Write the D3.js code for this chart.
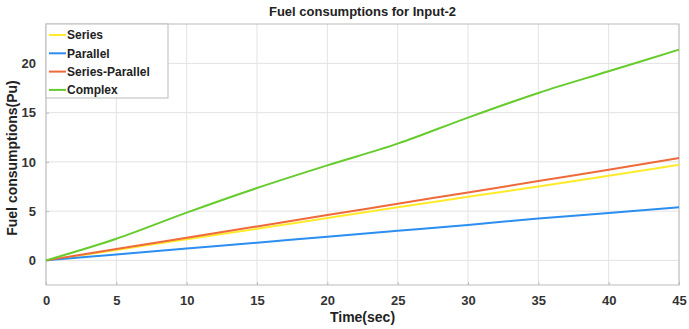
<!DOCTYPE html>
<html>
<head>
<meta charset="utf-8">
<script src="https://cdn.jsdelivr.net/npm/d3@7"></script>
<style>
body { margin: 0; background: #fff; }
svg { font-family: Arial, "Liberation Sans", sans-serif; }
.axis text { font-size: 13px; font-weight: bold; fill: #333; }
.axis path, .axis line { stroke: #bbb; }
.grid line { stroke: #e3e3e3; }
</style>
</head>
<body>
<svg width="689" height="329"></svg>
<script>
const width = 689
const height = 329
const margin = { top: 24, bottom: 44, left: 46, right: 10 }

// time (sec)
const time = [0, 5, 10, 15, 20, 25, 30, 35, 40, 45]
const seriesNames = ["Series", "Parallel", "Series-Parallel", "Complex"]
const seriesColors = ["#ffeb2a", "#2b8ef0", "#ef6a3a", "#66cc2e"]
const seriesVals = [0, 1.05, 2.15, 3.2, 4.3, 5.4, 6.45, 7.5, 8.6, 9.7]
const parallelVals = [0, 0.6, 1.2, 1.8, 2.4, 3.0, 3.6, 4.25, 4.8, 5.4]
const seriesParallelVals = [0, 1.15, 2.3, 3.45, 4.6, 5.75, 6.9, 8.05, 9.2, 10.4]
const complexVals = [0, 2.2, 4.85, 7.35, 9.65, 11.85, 14.5, 17.0, 19.2, 21.4]
const xTicks = [0, 5, 10, 15, 20, 25, 30, 35, 40, 45]
const yTicks = [0, 5, 10, 15, 20]

const allVals = [seriesVals, parallelVals, seriesParallelVals, complexVals]

const x = d3.scaleLinear().range([margin.left, width - margin.right]).domain([0, 45])
const y = d3.scaleLinear().range([height - margin.bottom, margin.top]).domain([-2.5, 24])

const svg = d3.select("svg")

// grid
svg.append("g").attr("class", "grid")
.selectAll("line.v").data(xTicks).enter().append("line")
.attr("x1", d => x(d)).attr("x2", d => x(d))
.attr("y1", y(-2.5)).attr("y2", y(24))
svg.select("g.grid")
.selectAll("line.h").data(yTicks).enter().append("line")
.attr("x1", x(0)).attr("x2", x(45))
.attr("y1", d => y(d)).attr("y2", d => y(d))

// box
svg.append("rect")
.attr("x", x(0)).attr("y", y(24))
.attr("width", x(45) - x(0)).attr("height", y(-2.5) - y(24))
.attr("fill", "none").attr("stroke", "#bbb")

const xAxis = d3.axisBottom(x).tickValues(xTicks).tickSize(3).tickPadding(8)
const yAxis = d3.axisLeft(y).tickValues(yTicks).tickSize(3).tickPadding(7)
svg.append("g").attr("class", "axis x")
.attr("transform", "translate(0," + (height - margin.bottom) + ")")
.call(xAxis)
.call(g => g.select(".domain").remove())
.selectAll(".tick line").attr("y2", -3)
svg.append("g").attr("class", "axis y")
.attr("transform", "translate(" + margin.left + ",0)")
.call(yAxis)
.call(g => g.select(".domain").remove())
.selectAll(".tick line").attr("x2", 3)

const line = d3.line()
.x((d, i) => x(time[i]))
.y(d => y(d))
.curve(d3.curveMonotoneX)

svg.append("g").attr("class", "lines")
.selectAll("path").data(allVals).enter().append("path")
.attr("d", line)
.attr("fill", "none")
.attr("stroke-width", 2)
.attr("stroke", (d, i) => seriesColors[i])

// title & labels
svg.append("text")
.attr("x", (x(0) + x(45)) / 2).attr("y", 16)
.attr("text-anchor", "middle")
.style("font-size", "13px").style("font-weight", "bold").style("fill", "#222")
.text("Fuel consumptions for Input-2")

svg.append("text")
.attr("x", (x(0) + x(45)) / 2).attr("y", 322)
.attr("text-anchor", "middle")
.style("font-size", "14px").style("font-weight", "bold").style("fill", "#222")
.text("Time(sec)")

svg.append("text")
.attr("transform", "translate(17,158) rotate(-90)")
.attr("text-anchor", "middle")
.style("font-size", "14px").style("font-weight", "bold").style("fill", "#222")
.text("Fuel consumptions(Pu)")

// legend
const legend = svg.append("g").attr("class", "legend")
legend.append("rect")
.attr("x", x(0)).attr("y", y(24))
.attr("width", 122).attr("height", 74)
.attr("fill", "#fff").attr("stroke", "#bbb")
const items = legend.selectAll("g.item").data(seriesNames).enter().append("g")
.attr("transform", (d, i) => "translate(" + x(0) + "," + (y(24) + 11 + i * 18.3) + ")")
items.append("line")
.attr("x1", 3).attr("x2", 20)
.attr("stroke-width", 2)
.attr("stroke", (d, i) => seriesColors[i])
items.append("text")
.attr("x", 21).attr("dy", "0.35em")
.style("font-size", "12px").style("font-weight", "bold").style("fill", "#222")
.text(d => d)
</script>
</body>
</html>
